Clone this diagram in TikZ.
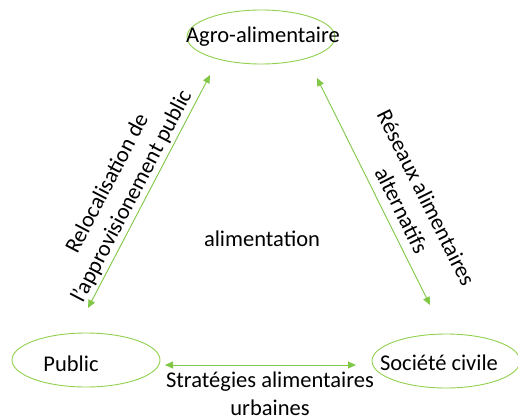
\documentclass[tikz,border=0pt]{standalone}
\usepackage{fontspec}
\setmainfont{Carlito}
\usetikzlibrary{shapes.geometric,arrows.meta}
\definecolor{lgreen}{HTML}{92D050}
\definecolor{agreen}{HTML}{80C846}
\tikzset{
  oval/.style={draw=lgreen, line width=0.9pt, ellipse, minimum width=148pt, minimum height=54pt, inner sep=0pt},
  lbl/.style={font=\fontsize{22.5}{27.5}\selectfont, align=center, inner sep=0pt},
  link/.style={draw=agreen, line width=0.9pt, {Triangle[length=8pt,width=7pt]}-{Triangle[length=8pt,width=7pt]}}
}
\begin{document}
\begin{tikzpicture}[x=1pt,y=-1pt]
\useasboundingbox[fill=white] (0,0) rectangle (518,418);
\node[oval] (agro) at (261,37) {};
\node[oval] (pub) at (86,360) {};
\node[oval] (soc) at (446,361) {};
\node[lbl] (tagro) at (263,37) {Agro-alimentaire};
\node[lbl] (tpub) at (71,364) {Public};
\node[lbl] (tsoc) at (439,363) {Société civile};
\node[lbl] (alim) at (262,239) {alimentation};
\coordinate (l1) at (88,308);
\coordinate (l2) at (210,75);
\coordinate (r1) at (317,78);
\coordinate (r2) at (430,305);
\coordinate (b1) at (165,365);
\coordinate (b2) at (356,365);
\draw[link] (l1) -- (l2);
\draw[link] (r1) -- (r2);
\draw[link] (b1) -- (b2);
\node[lbl, rotate=62.4] (tl) at (120,190) {Relocalisation de\\l'approvisionement public};
\node[lbl, rotate=-63.5] (tr) at (414,204) {Réseaux alimentaires\\alternatifs};
\node[lbl] (tb) at (270,394) {Stratégies alimentaires\\urbaines};
\end{tikzpicture}
\end{document}
